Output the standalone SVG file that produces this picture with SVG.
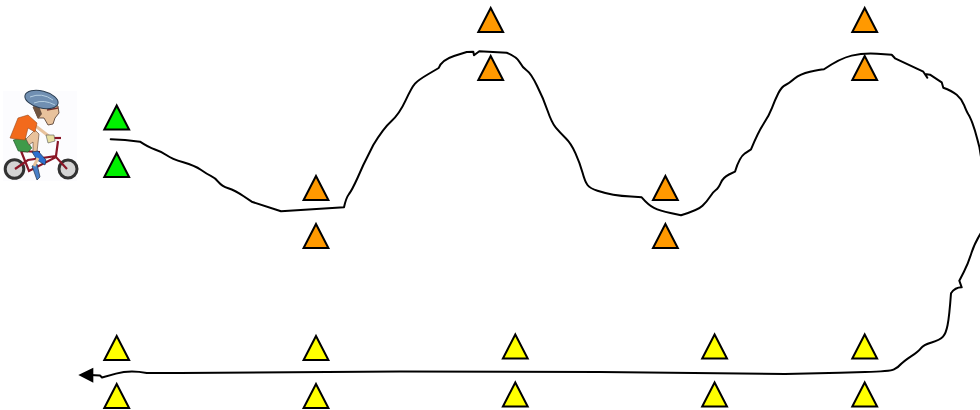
<svg xmlns="http://www.w3.org/2000/svg" width="980" height="410" viewBox="0 0 980 410">
<style>
.tri{stroke:#000;stroke-width:2;stroke-linejoin:miter}
.g{fill:#00f000}.o{fill:#ff9900}.y{fill:#ffff00}
.road{fill:none;stroke:#000;stroke-width:2;stroke-linejoin:round;stroke-linecap:round}
</style>
<defs>
<polygon id="t" points="0,0 12.4,24 -12.4,24"/>
<filter id="soft" x="-5%" y="-5%" width="110%" height="110%"><feGaussianBlur stdDeviation="0.4"/></filter>
</defs>
<rect width="980" height="410" fill="#fff"/>
<g id="cyclist" filter="url(#soft)">
<rect x="3" y="91" width="74" height="90" fill="#fcfcfe"/>
<g fill="#d4d4d4" stroke="#333" stroke-width="3"><circle cx="14.500" cy="169" r="9.300"/><circle cx="68" cy="169" r="9"/></g>
<g fill="none" stroke="#8a1428" stroke-width="2.200">
<path d="M15 169L28 160L56 156L58 141M21 151L29 171L56 157L67 169M21 151L40 152"/>
<path d="M52 138H61"/>
</g>
<path d="M13.300 140L25 137.500L31.700 148L28 152L18.300 151Z" fill="#3f9a4a" stroke="#24552b" stroke-width=".7"/>
<path d="M26 139L35 130L39 134L37 152L33 152L33 142L29 145Z" fill="#e8c29c" stroke="#5a4030" stroke-width=".6"/>
<path d="M32 152L38 151L46 160L45 165L37 160Z" fill="#2f6fd0" stroke="#20304a" stroke-width=".7"/>
<path d="M32 166L37 164L40 177L37 180Z" fill="#4a80c8" stroke="#20304a" stroke-width=".7"/>
<path d="M34 166L38 158" stroke="#e8c29c" stroke-width="3" fill="none"/>
<path d="M33 124L50 137" stroke="#e8c29c" stroke-width="3" fill="none"/>
<path d="M10 138L18 118L28 115L37 123L35 132L28 128L25 140L16 139Z" fill="#f26a1a" stroke="#9a4a1c" stroke-width=".6"/>
<path d="M46 135L54 135L55 141L48 143Z" fill="#e8dfa0" stroke="#555" stroke-width=".6"/>
<path d="M33 107L40 104L58 106L59 113L55 118L53 124L48 125L44 118L38 118Z" fill="#e8c29c" stroke="#4a3328" stroke-width=".8"/>
<path d="M33 107L39 106L42 114L38 119Z" fill="#6e5240"/>
<path d="M47 110L58 108" stroke="#7a2f2a" stroke-width="1.500"/>
<ellipse cx="41.500" cy="99.500" rx="17" ry="8.500" transform="rotate(14 41.500 99.500)" fill="#6f8fb2" stroke="#2c3e52" stroke-width="1"/>
<path d="M30 97Q42 92 53 100M34 103Q44 99 55 105" fill="none" stroke="#b4cde0" stroke-width="1"/>
</g>
<g id="connectors">
<path class="road" d="M110.700 139.300L125 140L140 141.700Q148.300 147.300 155 149.500Q161.700 151.700 166.700 155.300Q171.700 159 183.300 162.300Q195 165.700 200.800 169.800Q206.700 174 210.800 175.800Q215 177.700 218.300 181.800Q221.700 186 228.300 188.200Q235 190.300 243.300 196L251.700 201.700L281 211.300L344 207.300Q346 198 349 194Q351.700 190.700 357.500 178L363.300 165L373.300 145Q383.300 128.300 391.300 121.200Q399.300 114 405.500 100.600Q411.700 87.300 415 83.600Q418.300 80 428.500 74L438.700 68Q441.700 60 454 56L466.700 52L473.300 51.700L474 55.300L479.300 51.300L506.700 52.700Q516.700 56.700 519.700 62.200Q522.700 67.700 526.800 70.500Q531 73.300 537 85.800Q543.300 98.300 547.500 110.500Q551.700 122.700 555.800 127.700Q560 132.700 565.500 138Q571 143.300 575.500 153.300Q580 163.300 582.500 172.500Q585 181.700 587.500 185Q590 188.300 597.500 190.800Q605 193.300 613.300 194.700Q621.700 196 631 196.600L641.700 197.300Q648.300 205 654 207.800Q660 210.700 670.500 213L681 215.300Q698.300 210 702.500 205.800Q706.700 201.700 710 196.700Q713.300 191.700 715.800 190Q718.300 188.300 720.800 182.800Q723.300 177.300 729 174.500L735 171.700Q739.300 157.300 745 153.300L751 149.300Q758.300 131.700 763.600 123.700Q769 115.700 772 107.800Q775 100 778.300 93.300Q781.700 86.700 785.500 85Q789.300 83.300 794.600 78.600Q800 74 810 71.800Q820 69.700 824 69.300Q840 58.300 851.600 55.600Q863.300 53 877 53.800L891.700 54.700L895 58.300L923.300 71.700L927.300 77.700L925 74L930 74.700L941.700 82.300L943.300 87.700Q951.700 90.700 956.700 94.800Q961.700 99 964.200 105.300Q966.700 111.700 968.300 114.200Q970 116.700 972.500 123.300Q975 130 977 138L979.300 146.700L984 175M984 228Q975 241.700 971.600 252.500Q968.300 263.300 963.800 272L959.300 280.700L961.700 287.300Q955 287.300 951 293.300Q949.300 316.700 947.600 325Q946 333.300 943 336.600Q940 340 931.600 342.500Q923.300 345 920.800 348.300Q918.300 351.700 911 356.300Q904 361 901 364Q898.300 367.300 894 369.300Q890 371.300 865 372L840 372.700L785 374L600 372L400 371.500L180 373L146.700 373Q130 369.700 116 373.600L102 377.500L100 375.500L90 375"/>
<polygon points="78.300,375 93.300,367.700 93.300,382.700" fill="#000"/>
</g>
<g id="g1"><use href="#t" class="tri g" x="116.700" y="105.500"/></g>
<g id="g2"><use href="#t" class="tri g" x="116.700" y="153"/></g>
<g id="o1"><use href="#t" class="tri o" x="316" y="176"/></g>
<g id="o2"><use href="#t" class="tri o" x="316" y="224"/></g>
<g id="o3"><use href="#t" class="tri o" x="490.700" y="8"/></g>
<g id="o4"><use href="#t" class="tri o" x="490.700" y="56"/></g>
<g id="o5"><use href="#t" class="tri o" x="665.400" y="176"/></g>
<g id="o6"><use href="#t" class="tri o" x="665.400" y="224"/></g>
<g id="o7"><use href="#t" class="tri o" x="864.700" y="8"/></g>
<g id="o8"><use href="#t" class="tri o" x="864.700" y="56"/></g>
<g id="y1"><use href="#t" class="tri y" x="116.700" y="336"/></g>
<g id="y2"><use href="#t" class="tri y" x="116.700" y="384"/></g>
<g id="y3"><use href="#t" class="tri y" x="316" y="336"/></g>
<g id="y4"><use href="#t" class="tri y" x="316" y="384"/></g>
<g id="y5"><use href="#t" class="tri y" x="515.300" y="334.500"/></g>
<g id="y6"><use href="#t" class="tri y" x="515.300" y="382.500"/></g>
<g id="y7"><use href="#t" class="tri y" x="714.600" y="334.500"/></g>
<g id="y8"><use href="#t" class="tri y" x="714.600" y="382.500"/></g>
<g id="y9"><use href="#t" class="tri y" x="864.700" y="334.500"/></g>
<g id="y10"><use href="#t" class="tri y" x="864.700" y="382.500"/></g>
</svg>
